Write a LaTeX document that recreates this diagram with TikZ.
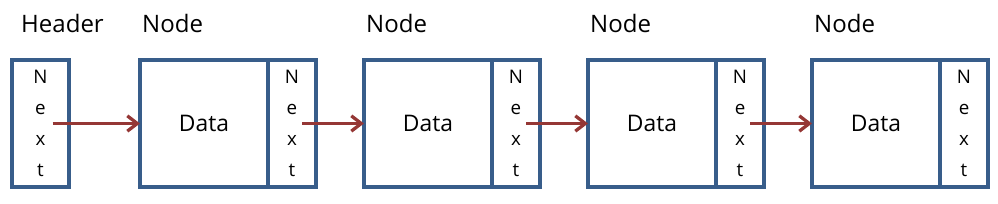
\documentclass[tikz,border=0pt]{standalone}
\usepackage{fontspec}
\setmainfont{Open Sans}
\usetikzlibrary{arrows.meta,positioning}
\definecolor{BoxBlue}{HTML}{385D8A}
\definecolor{LinkRed}{HTML}{953735}
\tikzset{
  % Base box
  cell/.style={rectangle,draw=BoxBlue,line width=3pt,outer sep=0pt,
               minimum height=38.1mm,inner sep=0pt,align=center},
  % Parts of a list node
  hdrbox/.style={cell,minimum width=17.1mm,font=\fontsize{16}{26.5}\selectfont},
  databox/.style={cell,minimum width=38.4mm,font=\fontsize{19.5}{24}\selectfont},
  nextbox/.style={cell,minimum width=14.4mm,font=\fontsize{16}{26.5}\selectfont},
  % Titles above the boxes
  title/.style={font=\fontsize{20.5}{24}\selectfont,anchor=base west,inner sep=0pt},
  % Arrow
  link/.style={-{Straight Barb[length=3mm,width=4.6mm,line width=2.8pt]},
               draw=LinkRed,line width=2.8pt}
}
\begin{document}
\begin{tikzpicture}
  \useasboundingbox (0,0) rectangle (299.4mm,60.9mm);

  % --- Header ---
  \node[hdrbox] (hdr) at (12.15mm,23.85mm) {N\\e\\x\\t};

  % --- List nodes ---
  \node[databox,right=21.3mm of hdr] (d1) {Data};
  \node[nextbox,anchor=west] (n1) at (d1.east) {N\\e\\x\\t};
  \node[databox,right=14.4mm of n1] (d2) {Data};
  \node[nextbox,anchor=west] (n2) at (d2.east) {N\\e\\x\\t};
  \node[databox,right=14.4mm of n2] (d3) {Data};
  \node[nextbox,anchor=west] (n3) at (d3.east) {N\\e\\x\\t};
  \node[databox,right=14.4mm of n3] (d4) {Data};
  \node[nextbox,anchor=west] (n4) at (d4.east) {N\\e\\x\\t};

  % --- Titles ---
  \node[title] (thdr) at ([shift={(2.7mm,8.1mm)}]hdr.north west) {Header};
  \node[title] (t1) at ([shift={(0.6mm,8.1mm)}]d1.north west) {Node};
  \node[title] (t2) at ([shift={(0.6mm,8.1mm)}]d2.north west) {Node};
  \node[title] (t3) at ([shift={(0.6mm,8.1mm)}]d3.north west) {Node};
  \node[title] (t4) at ([shift={(0.6mm,8.1mm)}]d4.north west) {Node};

  % --- Links ---
  \draw[link] ([xshift=3.6mm]hdr.center) -- (d1.west);
  \draw[link] ([xshift=3mm]n1.center) -- (d2.west);
  \draw[link] ([xshift=3mm]n2.center) -- (d3.west);
  \draw[link] ([xshift=3mm]n3.center) -- (d4.west);
\end{tikzpicture}
\end{document}
